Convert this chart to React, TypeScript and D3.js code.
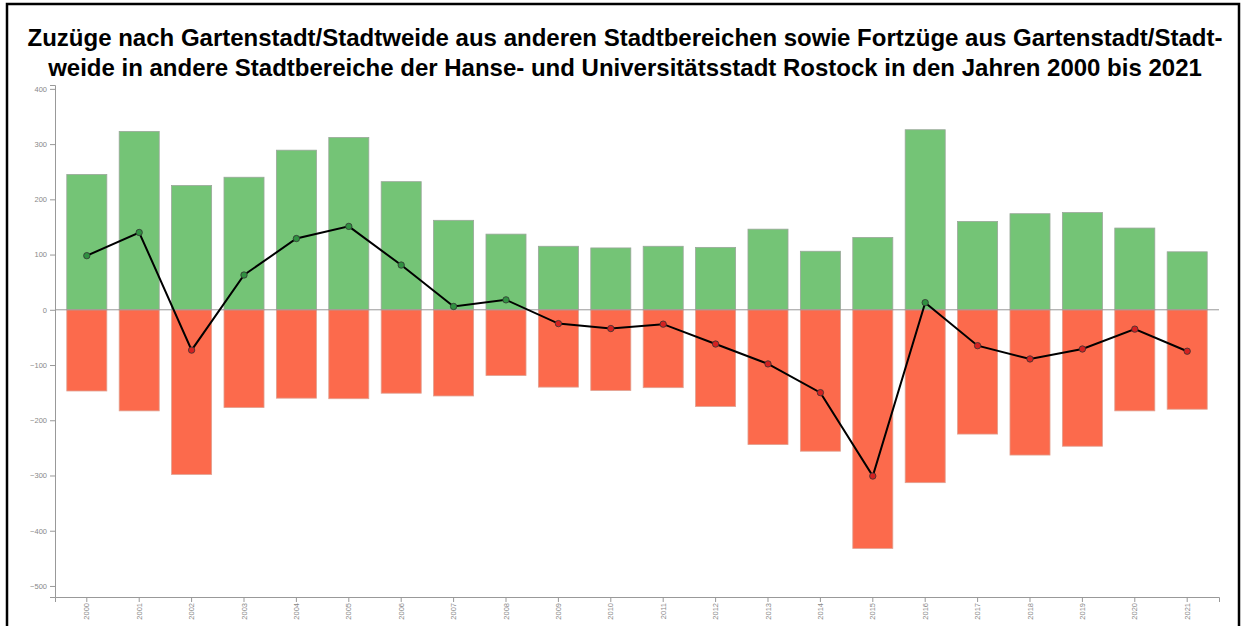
import React, { useEffect, useRef } from "react";
import * as d3 from "d3";

const years = [
  "2000", "2001", "2002", "2003", "2004", "2005", "2006", "2007", "2008", "2009", "2010",
  "2011", "2012", "2013", "2014", "2015", "2016", "2017", "2018", "2019", "2020", "2021",
];
const zuzuege = [245, 323, 225, 240, 289, 312, 232, 162, 137, 115, 112, 115, 113, 146, 106, 131, 326, 160, 174, 176, 148, 105];
const fortzuege = [-147, -183, -298, -177, -160, -161, -151, -156, -119, -140, -146, -141, -175, -244, -256, -432, -313, -225, -263, -247, -183, -180];
const saldo = [98, 140, -73, 63, 129, 151, 81, 6, 18, -25, -34, -26, -62, -98, -150, -301, 13, -65, -89, -71, -35, -75];
const yTicks = [-500, -400, -300, -200, -100, 0, 100, 200, 300, 400];
const titleLines = [
  "Zuzüge nach Gartenstadt/Stadtweide aus anderen Stadtbereichen sowie Fortzüge aus Gartenstadt/Stadt-",
  "weide in andere Stadtbereiche der Hanse- und Universitätsstadt Rostock in den Jahren 2000 bis 2021",
];

const width = 1244;
const height = 626;
const margin = { top: 85, bottom: 29, left: 55, right: 25 };

function App() {
  const ref = useRef<SVGSVGElement>(null);

  useEffect(() => {
    const svg = d3.select(ref.current);
    svg.selectAll("*").remove();

    // frame
    svg.append("rect")
      .attr("x", 7).attr("y", 4)
      .attr("width", 1232).attr("height", 660)
      .attr("fill", "white").attr("stroke", "black").attr("stroke-width", 2.5);

    svg.append("g").selectAll("text").data(titleLines).join("text")
      .attr("x", 625)
      .attr("y", (d, i) => 46 + i * 30)
      .attr("text-anchor", "middle")
      .attr("font-family", "Liberation Sans, Arial, sans-serif")
      .attr("font-weight", "bold")
      .attr("font-size", 24)
      .attr("fill", "black")
      .text((d) => d);

    const x = d3.scaleBand<string>()
      .domain(years)
      .range([margin.left, width - margin.right])
      .paddingInner(0.236)
      .paddingOuter(0.225);

    const y = d3.scaleLinear()
      .domain([-520, 407])
      .range([height - margin.bottom, margin.top]);

    const g = svg.append("g");

    g.selectAll("rect.in").data(zuzuege).join("rect")
      .attr("class", "in")
      .attr("x", (d, i) => x(years[i])!)
      .attr("width", x.bandwidth())
      .attr("y", (d) => y(d))
      .attr("height", (d) => y(0) - y(d))
      .attr("fill", "#74c476")
      .attr("stroke", "#9aa79a")
      .attr("stroke-width", 0.8);

    g.selectAll("rect.out").data(fortzuege).join("rect")
      .attr("class", "out")
      .attr("x", (d, i) => x(years[i])!)
      .attr("width", x.bandwidth())
      .attr("y", y(0))
      .attr("height", (d) => y(d) - y(0))
      .attr("fill", "#fc6a4c")
      .attr("stroke", "#e0a090")
      .attr("stroke-width", 0.8);

    // zero line
    g.append("line")
      .attr("x1", margin.left).attr("x2", width - margin.right)
      .attr("y1", y(0)).attr("y2", y(0))
      .attr("stroke", "#999").attr("stroke-width", 1);

    const yAxis = svg.append("g")
      .attr("transform", `translate(${margin.left},0)`)
      .call(d3.axisLeft(y).tickValues(yTicks).tickSize(5).tickPadding(3));
    yAxis.selectAll("path, line").attr("stroke", "#999");
    yAxis.selectAll("text")
      .attr("fill", "#888")
      .attr("font-size", 7.5)
      .attr("font-family", "Liberation Sans, Arial, sans-serif");

    const xAxis = svg.append("g")
      .attr("transform", `translate(0,${height - margin.bottom})`)
      .call(d3.axisBottom(x).tickSize(5).tickPadding(3));
    xAxis.selectAll("path, line").attr("stroke", "#999");
    xAxis.selectAll("text")
      .attr("fill", "#888")
      .attr("font-size", 7.5)
      .attr("font-family", "Liberation Sans, Arial, sans-serif")
      .attr("text-anchor", "end")
      .attr("transform", "rotate(-90)")
      .attr("x", -6)
      .attr("y", 0)
      .attr("dy", "0.35em");

    const cx = (i: number) => x(years[i])! + x.bandwidth() / 2;
    const line = d3.line<number>()
      .x((d, i) => cx(i))
      .y((d) => y(d));

    g.append("path")
      .datum(saldo)
      .attr("d", line)
      .attr("fill", "none")
      .attr("stroke", "black")
      .attr("stroke-width", 2);

    g.selectAll("circle").data(saldo).join("circle")
      .attr("cx", (d, i) => cx(i))
      .attr("cy", (d) => y(d))
      .attr("r", 3.2)
      .attr("fill", (d) => (d >= 0 ? "#2f9140" : "#d42020"))
      .attr("stroke", "#333")
      .attr("stroke-width", 0.8);
  }, []);

  return (
    <svg
      ref={ref}
      width={width}
      height={height}
      style={{ position: "absolute", left: 0, top: 0 }}
    />
  );
}

export default App;
